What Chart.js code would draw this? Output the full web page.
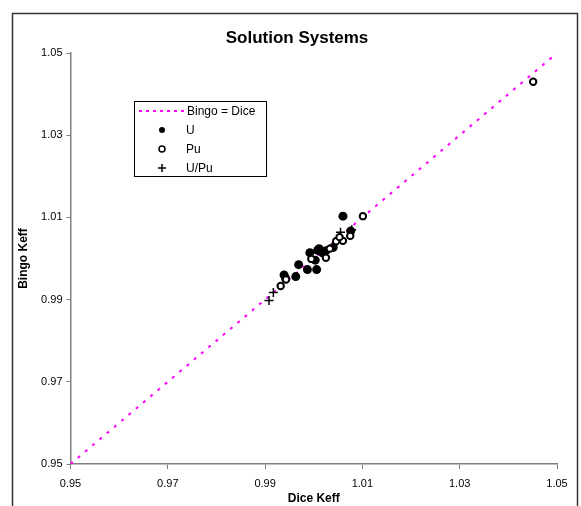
<!DOCTYPE html>
<html>
<head>
<meta charset="utf-8">
<script src="https://cdn.jsdelivr.net/npm/chart.js@4/dist/chart.umd.min.js"></script>
<style>
  html, body { margin: 0; padding: 0; background: #fff; }
  #wrap { width: 581px; height: 506px; }
</style>
</head>
<body>
<div id="wrap"><canvas id="chart" width="581" height="506"></canvas></div>
<script>
// Bingo = Dice reference line
const lineX = [0.95, 1.05];
const lineY = [0.95, 1.05];

// U (filled circles)
const uDice  = [1.0060, 1.0076, 1.0040, 1.0025, 1.0011, 1.0018, 0.9992, 1.0003, 1.0008, 0.9969, 0.9987, 1.0006, 0.9939, 0.9942, 0.9963, 1.0014];
const uBingo = [1.0103, 1.0067, 1.0027, 1.0019, 1.0024, 1.0014, 1.0014, 0.9996, 1.0020, 0.9985, 0.9973, 0.9973, 0.9960, 0.9952, 0.9956, 1.0018];

// Pu (open circles)
const puDice  = [1.0451, 1.0101, 1.0075, 1.0060, 1.0046, 1.0033, 1.0025, 0.9995, 0.9943, 0.9932, 1.0053];
const puBingo = [1.0430, 1.0103, 1.0055, 1.0043, 1.0042, 1.0024, 1.0002, 0.9999, 0.9949, 0.9933, 1.0052];

// U/Pu (crosses)
const upDice  = [0.9908, 0.9917, 1.0055, 1.0078];
const upBingo = [0.9898, 0.9917, 1.0064, 1.0070];

const tickValues = [0.95, 0.97, 0.99, 1.01, 1.03, 1.05];

function pairs(xs, ys) {
    return xs.map((x, i) => ({ x: x, y: ys[i] }));
}

const FONT = 'Arial, "Liberation Sans", sans-serif';

// frame, title and legend box drawn on top of the chart
const decorations = {
    id: 'decorations',
    afterDraw(chart) {
        const ctx = chart.ctx;
        ctx.save();
        // outer frame (bottom edge runs off the picture)
        ctx.strokeStyle = '#333';
        ctx.lineWidth = 1.5;
        ctx.beginPath();
        ctx.moveTo(12.5, 520);
        ctx.lineTo(12.5, 13.5);
        ctx.lineTo(577.5, 13.5);
        ctx.lineTo(577.5, 520);
        ctx.stroke();

        // title
        ctx.fillStyle = '#000';
        ctx.font = 'bold 17px ' + FONT;
        ctx.textAlign = 'center';
        ctx.textBaseline = 'middle';
        ctx.fillText('Solution Systems', 297, 38);

        // legend
        const lx = 134, ly = 101, lw = 132, lh = 75;
        ctx.fillStyle = '#fff';
        ctx.fillRect(lx, ly, lw, lh);
        ctx.strokeStyle = '#000';
        ctx.lineWidth = 1;
        ctx.strokeRect(lx + 0.5, ly + 0.5, lw, lh);

        const rows = chart.data.datasets.map(d => d.label);
        ctx.font = '12px ' + FONT;
        ctx.textAlign = 'left';
        rows.forEach((label, i) => {
            const y = ly + 10 + i * 19;
            const ds = chart.data.datasets[i];
            if (i === 0) {
                ctx.strokeStyle = ds.borderColor;
                ctx.lineWidth = 2;
                ctx.setLineDash([3, 4]);
                ctx.beginPath();
                ctx.moveTo(139, y);
                ctx.lineTo(185, y);
                ctx.stroke();
                ctx.setLineDash([]);
            } else if (ds.pointStyle === 'cross') {
                ctx.strokeStyle = '#000';
                ctx.lineWidth = 1.5;
                ctx.beginPath();
                ctx.moveTo(158, y); ctx.lineTo(166, y);
                ctx.moveTo(162, y - 4); ctx.lineTo(162, y + 4);
                ctx.stroke();
            } else {
                ctx.beginPath();
                ctx.arc(162, y, 3, 0, Math.PI * 2);
                if (ds.pointBackgroundColor === '#000') {
                    ctx.fillStyle = '#000';
                    ctx.fill();
                } else {
                    ctx.strokeStyle = '#000';
                    ctx.lineWidth = 1.5;
                    ctx.stroke();
                }
            }
            ctx.fillStyle = '#000';
            ctx.fillText(label, i === 0 ? 187 : 186, y + 1);
        });
        ctx.restore();
    }
};

const ctx = document.getElementById('chart').getContext('2d');
const chart = new Chart(ctx, {
    type: 'scatter',
    data: {
        datasets: [
            {
                label: 'Bingo = Dice',
                type: 'line',
                data: pairs(lineX, lineY),
                borderColor: '#FF00FF',
                borderWidth: 2,
                borderDash: [3, 6.5],
                pointRadius: 0,
                fill: false,
                order: 2
            },
            {
                label: 'U',
                data: pairs(uDice, uBingo),
                pointStyle: 'circle',
                pointRadius: 4.5,
                pointBackgroundColor: '#000',
                pointBorderColor: '#000',
                pointBorderWidth: 0,
                order: 1
            },
            {
                label: 'Pu',
                data: pairs(puDice, puBingo),
                pointStyle: 'circle',
                pointRadius: 3.2,
                pointBackgroundColor: '#fff',
                pointBorderColor: '#000',
                pointBorderWidth: 2,
                order: 0
            },
            {
                label: 'U/Pu',
                data: pairs(upDice, upBingo),
                pointStyle: 'cross',
                pointRadius: 4.5,
                pointBorderColor: '#000',
                pointBorderWidth: 1.5,
                order: 0
            }
        ]
    },
    options: {
        responsive: false,
        animation: false,
        layout: { padding: { left: 12, right: 24, top: 53, bottom: 0 } },
        plugins: {
            legend: { display: false },
            title: { display: false },
            tooltip: { enabled: false }
        },
        scales: {
            x: {
                type: 'linear',
                min: 0.95,
                max: 1.05,
                afterBuildTicks: (axis) => { axis.ticks = tickValues.map(v => ({ value: v })); },
                afterFit: (axis) => { axis.height = 42; },
                ticks: {
                    color: '#000',
                    font: { family: FONT, size: 11 },
                    padding: 8,
                    maxRotation: 0,
                    callback: (v) => v.toFixed(2)
                },
                grid: { display: true, drawOnChartArea: false, drawTicks: true, tickLength: 5, color: '#808080' },
                border: { display: true, color: '#808080', width: 1.5 },
                title: {
                    display: true,
                    text: 'Dice Keff',
                    color: '#000',
                    font: { family: FONT, size: 12, weight: 'bold' },
                    padding: { top: 0, bottom: 0 }
                }
            },
            y: {
                type: 'linear',
                min: 0.95,
                max: 1.05,
                afterBuildTicks: (axis) => { axis.ticks = tickValues.map(v => ({ value: v })); },
                afterFit: (axis) => { axis.width = 58.5; },
                ticks: {
                    color: '#000',
                    font: { family: FONT, size: 11 },
                    padding: 4,
                    callback: (v) => v.toFixed(2)
                },
                grid: { display: true, drawOnChartArea: false, drawTicks: true, tickLength: 4, color: '#808080' },
                border: { display: true, color: '#808080', width: 1.5 },
                title: {
                    display: true,
                    text: 'Bingo Keff',
                    color: '#000',
                    font: { family: FONT, size: 12, weight: 'bold' },
                    padding: { top: 4, bottom: 0 }
                }
            }
        }
    },
    plugins: [decorations]
});
</script>
</body>
</html>
